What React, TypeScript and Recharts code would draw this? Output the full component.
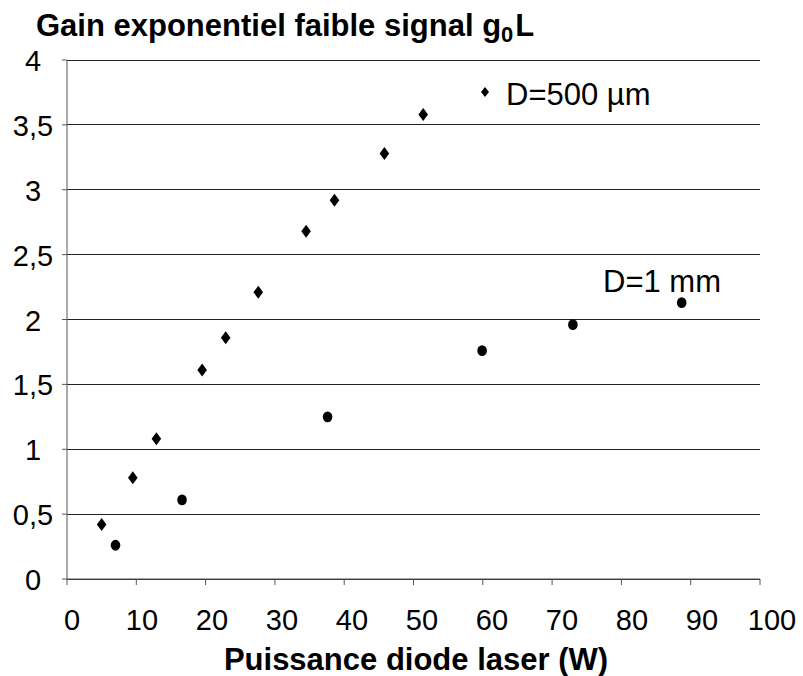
import { CartesianGrid, Scatter, ScatterChart, XAxis, YAxis } from 'recharts'

// D=500 µm
const POWER_500UM = [5.0, 9.5, 12.9, 19.5, 22.9, 27.6, 34.5, 38.6, 45.8, 51.4]
const GAIN_500UM = [0.42, 0.78, 1.08, 1.61, 1.86, 2.21, 2.68, 2.92, 3.28, 3.58]
// D=1 mm
const POWER_1MM = [7.0, 16.6, 37.6, 59.9, 73.0, 88.7]
const GAIN_1MM = [0.26, 0.61, 1.25, 1.76, 1.96, 2.13]

const X_TICKS = [0, 10, 20, 30, 40, 50, 60, 70, 80, 90, 100]
const Y_TICKS = [0, 0.5, 1, 1.5, 2, 2.5, 3, 3.5, 4]
const SERIES_NAMES = ['D=500 µm', 'D=1 mm']
const Y_TITLE = 'Gain exponentiel faible signal g'
const X_TITLE = 'Puissance diode laser (W)'

const FONT = '"Liberation Sans", Arial, sans-serif'
const AXIS = '#555'

const data500 = POWER_500UM.map((x, i) => ({ x, y: GAIN_500UM[i] }))
const data1mm = POWER_1MM.map((x, i) => ({ x, y: GAIN_1MM[i] }))

const Diamond = (props: any) => {
  const { cx, cy } = props
  return <path d={`M${cx},${cy - 6.5}L${cx + 4.8},${cy}L${cx},${cy + 6.5}L${cx - 4.8},${cy}Z`} fill="#000" />
}

const Dot = (props: any) => <ellipse cx={props.cx} cy={props.cy} rx={4.8} ry={5.4} fill="#000" />

const XTick = (props: any) => {
  const { x, payload } = props
  // excel labels drift a little to the right of their ticks
  return (
    <text x={x + 5 + payload.value * 0.07} y={630} textAnchor="middle" fontSize={29} fontFamily={FONT} fill="#000">
      {payload.value}
    </text>
  )
}

const YTick = (props: any) => {
  const { y, payload } = props
  return (
    <text x={33} y={y + 11} textAnchor="middle" fontSize={29} fontFamily={FONT} fill="#000">
      {String(payload.value).replace('.', ',')}
    </text>
  )
}

export default function App() {
  return (
    <div style={{ position: 'absolute', left: 0, top: 0, width: 803, height: 676, background: '#fff' }}>
      <ScatterChart width={803} height={676} margin={{ top: 60, right: 43, bottom: 0, left: 0 }}>
        <CartesianGrid vertical={false} stroke="#222" shapeRendering="crispEdges" />
        <XAxis
          type="number"
          dataKey="x"
          domain={[0, 100]}
          ticks={X_TICKS}
          interval={0}
          height={97}
          tickSize={6}
          axisLine={{ stroke: AXIS }}
          tickLine={{ stroke: AXIS }}
          tick={<XTick />}
          label={{
            content: () => (
              <text x={416} y={670} textAnchor="middle" fontSize={31} fontWeight="bold" fontFamily={FONT}>
                {X_TITLE}
              </text>
            ),
          }}
        />
        <YAxis
          type="number"
          dataKey="y"
          domain={[0, 4]}
          ticks={Y_TICKS}
          interval={0}
          width={67}
          tickSize={5}
          axisLine={{ stroke: AXIS }}
          tickLine={{ stroke: AXIS }}
          tick={<YTick />}
          label={{
            content: () => (
              <text x={36} y={36} fontSize={31} fontWeight="bold" fontFamily={FONT}>
                {Y_TITLE}
                <tspan fontSize={22} dy={6}>0</tspan>
                <tspan dx={2} dy={-6}>L</tspan>
              </text>
            ),
          }}
        />
        <Scatter name={SERIES_NAMES[0]} data={data500} shape={Diamond} isAnimationActive={false} />
        <Scatter name={SERIES_NAMES[1]} data={data1mm} shape={Dot} isAnimationActive={false} />
      </ScatterChart>
      {/* series labels, placed by hand like the excel text boxes */}
      <svg width={803} height={676} style={{ position: 'absolute', left: 0, top: 0, pointerEvents: 'none' }}>
        <path d="M485,87L489,92L485,97L481,92Z" fill="#000" />
        <text x={506} y={105} fontSize={31} fontFamily={FONT}>{SERIES_NAMES[0]}</text>
        <text x={603} y={292} fontSize={31} fontFamily={FONT}>{SERIES_NAMES[1]}</text>
      </svg>
    </div>
  )
}
